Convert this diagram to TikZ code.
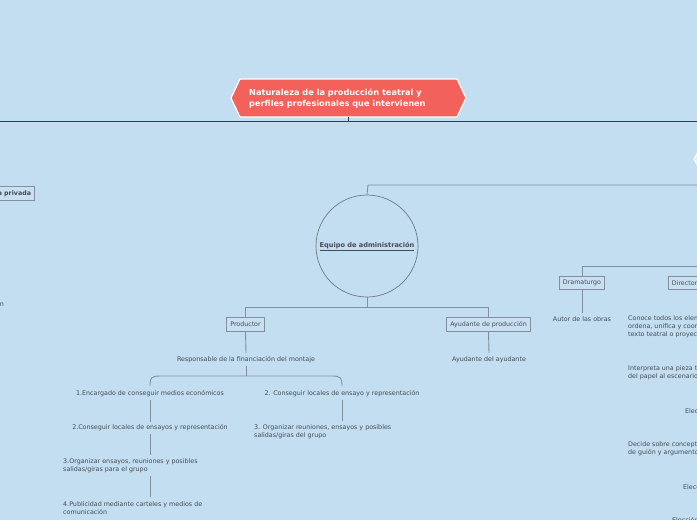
\documentclass[tikz,border=0pt]{standalone}
\usepackage{fontspec}
\setmainfont{DejaVu Sans}
\usetikzlibrary{positioning}
\definecolor{bgc}{RGB}{194,222,240}
\definecolor{titlered}{RGB}{242,98,90}
\definecolor{linec}{RGB}{128,144,160}
\definecolor{txtc}{RGB}{70,76,84}
\definecolor{boxfill}{RGB}{200,224,242}
\tikzset{
  conn/.style={draw=linec, line width=0.9pt},
  txt/.style={text=txtc, font=\fontsize{6.35}{8}\selectfont, inner sep=3pt},
  ltxt/.style={txt, align=left, anchor=west},
  boxn/.style={draw=linec, fill=boxfill, line width=0.8pt, text=txtc, font=\fontsize{6.3}{7}\selectfont, inner xsep=3.5pt, minimum height=13.5pt},
}
\begin{document}
\begin{tikzpicture}[x=1pt,y=-1pt]
\useasboundingbox (0,0) rectangle (697,520);
\clip (0,0) rectangle (697,520);
\fill[bgc] (0,0) rectangle (697,520);

% main horizontal line
\draw[line width=0.9pt, draw={rgb,255:red,60;green,60;blue,64}] (0,121) -- (697,121);

% title
\fill[titlered, draw=white, line width=1.2pt] (231,98) -- (240,79) -- (457,79) -- (466,98) -- (457,117) -- (240,117) -- cycle;
\node[anchor=west, align=left, text=white, font=\fontsize{8.2}{11.8}\selectfont\bfseries, inner sep=0pt] (title) at (249,98.5) {Naturaleza de la producción teatral y\\perfiles profesionales que intervienen};
\coordinate (tbot) at (348,117);
\coordinate (tline) at (348,121);
\draw[line width=0.9pt, draw={rgb,255:red,60;green,60;blue,64}] (tbot) -- (tline);

% right hexagon tip (off-screen)
\fill[fill={rgb,255:red,230;green,238;blue,244}, draw=white, line width=1.2pt] (694,159) -- (699,150) -- (720,150) -- (720,168) -- (699,168) -- cycle;

% left partial box
\node[boxn, font=\fontsize{6.3}{7}\selectfont\bfseries, anchor=east] (privada) at (35,193.5) {Financiación pública/a privada};
\node[txt, anchor=east] (leftt) at (7,304) {Gestión};

% admin
\node[circle, draw={rgb,255:red,110;green,122;blue,134}, line width=0.7pt, minimum size=102pt, inner sep=0pt] (adm) at (367,246) {};
\node[text=txtc, font=\fontsize{6.6}{7}\selectfont\bfseries, inner sep=0pt] (admt) at (367,246.5) {\underline{Equipo de administración}};
\coordinate (r185) at (697,185);
\draw[conn] (adm.north) -- (368,185) -- (r185);

\node[boxn] (prod) at (245.5,324.5) {Productor};
\node[boxn] (ayud) at (488.5,324.5) {Ayudante de producción};
\draw[conn] (adm.south) -- (367,307) coordinate (j1);
\draw[conn] (prod.north) -- (245.5,307) -- (488.5,307) -- (ayud.north);

\node[txt] (resp) at (246,359.5) {Responsable de la financiación del montaje};
\draw[conn] (prod.south) -- (resp.north);
\node[txt] (ayay) at (489,359.5) {Ayudante del ayudante};
\draw[conn] (ayud.south) -- (ayay.north);

% bracket
\coordinate (bl) at (150,386);
\coordinate (br) at (342,386);
\draw[conn] (resp.south) -- (246,376);
\draw[conn] (bl) .. controls (150,378) and (151,376) .. (160,376) -- (332,376) .. controls (341,376) and (342,378) .. (br);

\node[txt] (e1) at (150,394) {1.Encargado de conseguir medios económicos};
\node[txt] (e2) at (150,428) {2.Conseguir locales de ensayos y representación};
\node[ltxt] (e3) at (60,466) {3.Organizar ensayos, reuniones y posibles\\salidas/giras para el grupo};
\node[ltxt] (e4) at (60,508) {4.Publicidad mediante carteles y medios de\\comunicación};
\draw[conn] (e1.south) -- (e2.north);
\draw[conn] (e2.south) -- (150,455);
\draw[conn] (150,476) -- (150,497);

\node[txt] (f2) at (342,394) {2. Conseguir locales de ensayo y representación};
\node[ltxt] (f3) at (251,432) {3. Organizar reuniones, ensayos y posibles\\salidas/giras del grupo};
\draw[conn] (f2.south) -- (342,421);

% right side
\node[boxn] (dram) at (582,283) {Dramaturgo};
\node[boxn, anchor=west] (dir) at (668,283) {Director};
\coordinate (r266) at (697,266);
\draw[conn] (dram.north) -- (582,266) -- (r266);
\node[txt] (autor) at (582,319) {Autor de las obras};
\draw[conn] (dram.south) -- (autor.north);

\node[ltxt] (d1) at (625,327) {Conoce todos los elementos,\\ordena, unifica y coordina el\\texto teatral o proyecto};
\node[ltxt] (d2) at (625,373) {Interpreta una pieza teatral\\del papel al escenario};
\node[ltxt] (d3) at (682,411) {Elección};
\node[ltxt] (d4) at (625,449) {Decide sobre conceptos\\de guión y argumento};
\node[ltxt] (d5) at (680,487) {Elección};
\node[ltxt] (d6) at (669,520) {Elección};
\end{tikzpicture}
\end{document}
